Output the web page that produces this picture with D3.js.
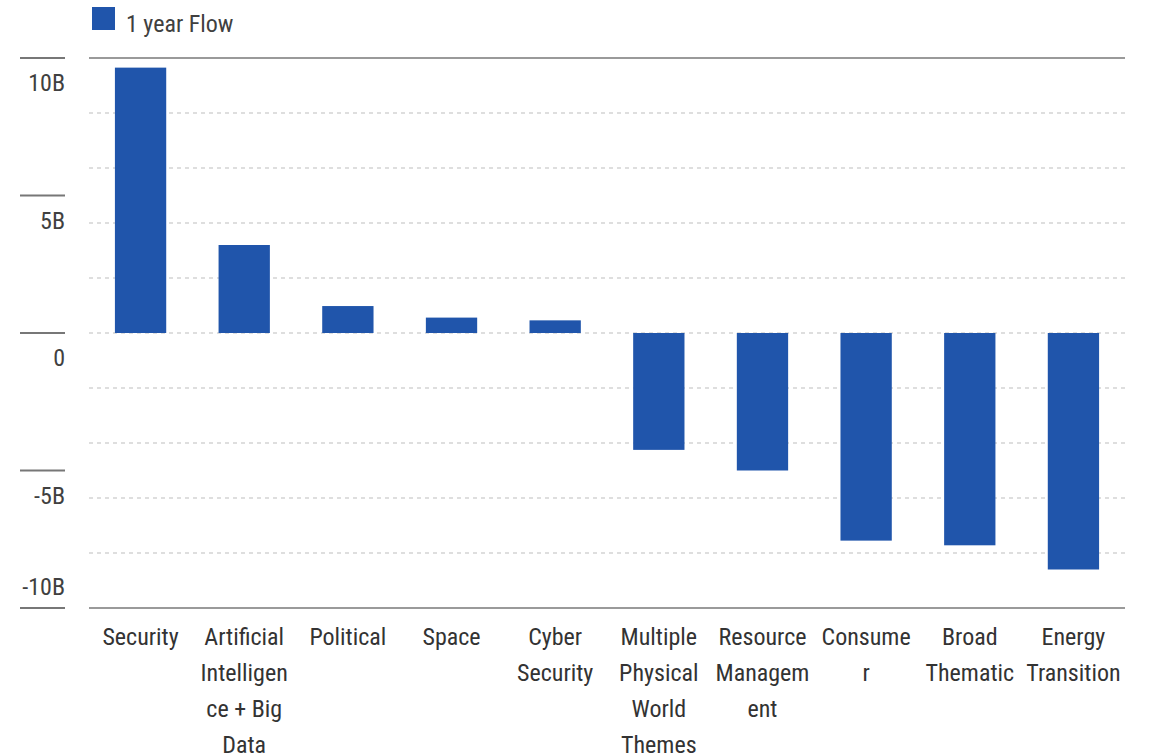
<!DOCTYPE html>
<html>
<head>
<meta charset="utf-8">
<script src="https://cdn.jsdelivr.net/npm/d3@7"></script>
<style>
  html, body { margin: 0; padding: 0; background: #fff; }
  svg { display: block; }
  text { font-family: "Liberation Sans Narrow", "Roboto Condensed", Roboto, sans-serif; }
</style>
</head>
<body>
<svg id="chart" width="1153" height="754"></svg>
<script>
const categories = ["Security", "Artificial Intelligence + Big Data", "Political", "Space", "Cyber Security",
  "Multiple Physical World Themes", "Resource Management", "Consumer", "Broad Thematic", "Energy Transition"];
const labelLines = [
  ["Security"],
  ["Artificial", "Intelligen", "ce + Big", "Data"],
  ["Political"],
  ["Space"],
  ["Cyber", "Security"],
  ["Multiple", "Physical", "World", "Themes"],
  ["Resource", "Managem", "ent"],
  ["Consume", "r"],
  ["Broad", "Thematic"],
  ["Energy", "Transition"]
];
const flowBillions = [9.65, 3.2, 0.98, 0.56, 0.46, -4.25, -5.0, -7.55, -7.72, -8.6];
const tickValues = [10, 5, 0, -5, -10];
const tickLabels = ["10B", "5B", "0", "-5B", "-10B"];
const gridValues = [10, 8, 6, 4, 2, 0, -2, -4, -6, -8, -10];
const seriesName = "1 year Flow";

const svg = d3.select("#chart");
const mLeft = 89, mRight = 1125, mTop = 58, mBottom = 608;
const barColor = "#2055ab";

const x = d3.scaleBand().domain(categories).range([mLeft, mRight]).paddingInner(0.505).paddingOuter(0.25);
const y = d3.scaleLinear().domain([-10, 10]).range([mBottom, mTop]);

// dotted gridlines
svg.append("g").selectAll("line").data(gridValues.filter(v => Math.abs(v) !== 10)).join("line")
  .attr("x1", mLeft).attr("x2", mRight)
  .attr("y1", d => y(d)).attr("y2", d => y(d))
  .attr("stroke", "#d4d4d4").attr("stroke-width", 1.5).attr("stroke-dasharray", "4,4");

// top and bottom solid lines
svg.append("g").selectAll("line").data([10, -10]).join("line")
  .attr("x1", mLeft).attr("x2", mRight)
  .attr("y1", d => y(d)).attr("y2", d => y(d))
  .attr("stroke", "#9a9a9a").attr("stroke-width", 2);

// left tick marks
svg.append("g").selectAll("line").data(tickValues).join("line")
  .attr("x1", 20).attr("x2", 65)
  .attr("y1", d => y(d)).attr("y2", d => y(d))
  .attr("stroke", "#777").attr("stroke-width", 2);

// tick labels
svg.append("g").selectAll("text").data(tickValues).join("text")
  .attr("x", 65)
  .attr("y", d => d === -10 ? y(d) - 13 : y(d) + 33)
  .attr("text-anchor", "end")
  .attr("font-size", 24)
  .attr("fill", "#404040")
  .text((d, i) => tickLabels[i]);

// bars
svg.append("g").selectAll("rect").data(flowBillions).join("rect")
  .attr("x", (d, i) => x(categories[i]))
  .attr("width", x.bandwidth())
  .attr("y", d => y(Math.max(0, d)))
  .attr("height", d => Math.abs(y(d) - y(0)))
  .attr("fill", barColor);

// category labels
const lab = svg.append("g").selectAll("text").data(labelLines).join("text")
  .attr("text-anchor", "middle")
  .attr("font-size", 24)
  .attr("fill", "#333");
lab.each(function(lines, i) {
  const t = d3.select(this);
  const cx = x(categories[i]) + x.bandwidth() / 2;
  lines.forEach((ln, j) => {
    t.append("tspan").attr("x", cx).attr("y", 645 + j * 36).text(ln);
  });
});

// legend
svg.append("rect").attr("x", 92).attr("y", 7).attr("width", 23).attr("height", 23).attr("fill", barColor);
svg.append("text").attr("x", 126).attr("y", 32).attr("font-size", 24).attr("fill", "#404040").text(seriesName);
</script>
</body>
</html>
